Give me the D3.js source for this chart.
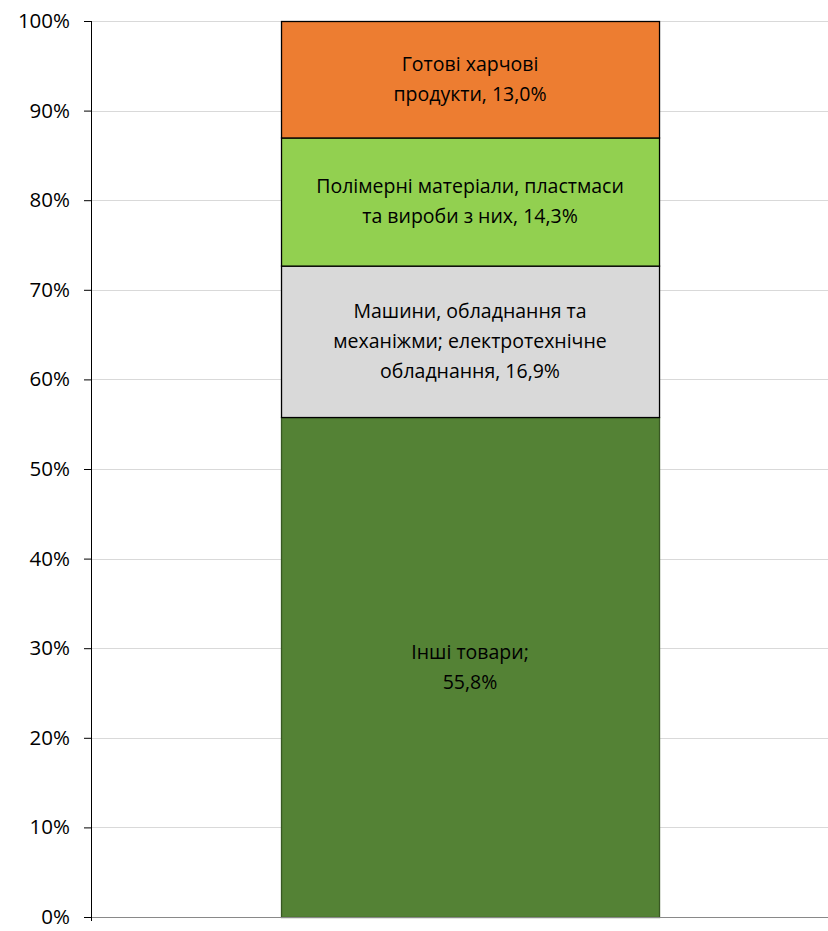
<!DOCTYPE html>
<html>
<head>
<meta charset="utf-8">
<script src="https://cdn.jsdelivr.net/npm/d3@7"></script>
<style>
  body { margin: 0; background: #fff; }
  text { font-family: "Open Sans", "Noto Sans", sans-serif; fill: #000; }
</style>
</head>
<body>
<div id="container"></div>
<script>
// Data (shares, %)
var categories = ["Інші товари", "Машини, обладнання", "Полімерні матеріали", "Готові харчові продукти"];
var shares = [55.8, 16.9, 14.3, 13.0];
var labelLines = [
    ["Інші товари;", "55,8%"],
    ["Машини, обладнання та", "механіжми; електротехнічне", "обладнання, 16,9%"],
    ["Полімерні матеріали, пластмаси", "та вироби з них, 14,3%"],
    ["Готові харчові", "продукти, 13,0%"]
];
var colors = ["#548235", "#d9d9d9", "#92d050", "#ed7d31"];
var strokes = ["#385723", "#000", "#000", "#000"];
var yTicks = [0, 10, 20, 30, 40, 50, 60, 70, 80, 90, 100];

var width = 828, height = 931;
var margin = {top: 21, right: 0, bottom: 14, left: 92};
var innerW = width - margin.left - margin.right,
    innerH = height - margin.top - margin.bottom;

var svg = d3.select("#container").append("svg")
    .attr("width", width)
    .attr("height", height);

var g = svg.append("g")
    .attr("transform", "translate(" + margin.left + "," + margin.top + ")");

var y = d3.scaleLinear().domain([0, 100]).range([innerH, 0]);
var x = d3.scaleBand().domain(["all"]).range([0, innerW])
    .paddingInner(0).paddingOuter(0.4735).align(0.528);

// gridlines
g.selectAll("line.grid")
    .data(yTicks.filter(function(d) { return d > 0; }))
    .enter().append("line")
    .attr("class", "grid")
    .attr("x1", 0).attr("x2", innerW)
    .attr("y1", function(d) { return Math.round(y(d)) + 0.5; })
    .attr("y2", function(d) { return Math.round(y(d)) + 0.5; })
    .attr("stroke", "#d9d9d9")
    .attr("stroke-width", 1);

// stack
var stacked = [];
var acc = 0;
shares.forEach(function(v, i) {
    stacked.push({i: i, y0: acc, y1: acc + v});
    acc += v;
});

var bx = x("all"),
    bw = x.bandwidth();

g.selectAll("rect.seg")
    .data(stacked)
    .enter().append("rect")
    .attr("class", "seg")
    .attr("x", bx + 0.5)
    .attr("width", bw)
    .attr("y", function(d) { return y(d.y1) + 0.5; })
    .attr("height", function(d) { return y(d.y0) - y(d.y1); })
    .attr("fill", function(d) { return colors[d.i]; })
    .attr("stroke", function(d) { return strokes[d.i]; })
    .attr("stroke-width", 1.3);

// labels
var lineH = 30;
stacked.forEach(function(d) {
    var lines = labelLines[d.i];
    var cy = (y(d.y0) + y(d.y1)) / 2;
    var t = g.append("text")
        .attr("text-anchor", "middle")
        .style("font-size", "19.5px");
    lines.forEach(function(s, k) {
        t.append("tspan")
            .attr("x", bx + bw / 2)
            .attr("y", cy + (k - (lines.length - 1) / 2) * lineH)
            .attr("dy", "0.35em")
            .text(s);
    });
});

// x axis line
g.append("line")
    .attr("x1", 0).attr("x2", innerW)
    .attr("y1", innerH + 0.5).attr("y2", innerH + 0.5)
    .attr("stroke", "#898989");

// y axis
var yAxis = g.append("g")
    .call(d3.axisLeft(y).tickValues(yTicks).tickSize(8).tickPadding(14)
        .tickFormat(function(d) { return d + "%"; }));
yAxis.select(".domain").attr("stroke", "#000").attr("d", "M-0.5,0V" + (innerH + 4));
yAxis.selectAll(".tick line").attr("stroke", "#000");
yAxis.selectAll(".tick text")
    .style("font-size", "20.5px")
    .style("font-family", "'Open Sans', 'Noto Sans', sans-serif")
    .attr("fill", "#000");
</script>
</body>
</html>
